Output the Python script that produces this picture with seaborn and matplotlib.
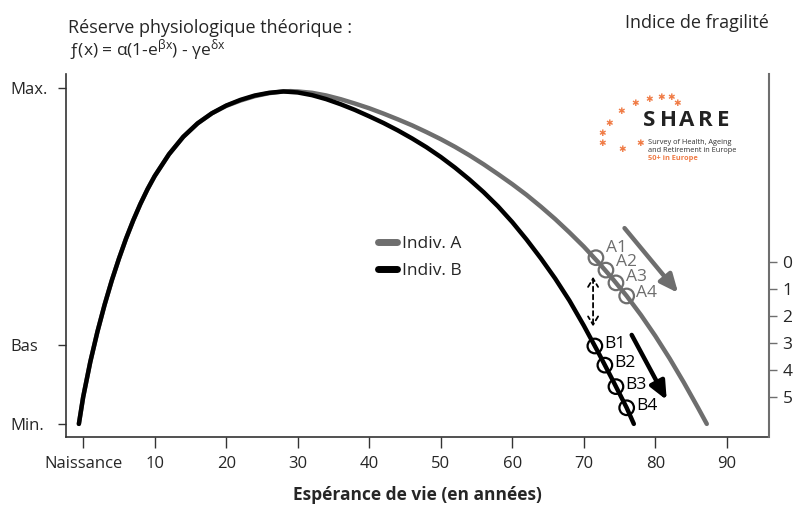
import numpy as np
import pandas as pd
import matplotlib
matplotlib.use("Agg")
import matplotlib.pyplot as plt
from matplotlib.lines import Line2D
from matplotlib import font_manager
import seaborn as sns

# ---------------- data ----------------
years_b = [-0.6, 0, 1, 2, 3, 4, 5, 6, 7, 8, 9, 10, 12, 14, 16, 18, 20, 22, 24, 26, 28,
           30, 32, 34, 36, 38, 40, 42, 44, 46, 48, 50, 52, 54, 56, 58, 60, 62, 64, 66,
           68, 70, 72, 74, 76, 77]
reserve_b = [0.0, 0.080, 0.185, 0.275, 0.355, 0.427, 0.492, 0.552, 0.606, 0.655, 0.699, 0.738,
             0.803, 0.855, 0.895, 0.925, 0.948, 0.965, 0.978, 0.986, 0.990,
             0.987, 0.979, 0.967, 0.952, 0.935, 0.916, 0.896, 0.874, 0.850, 0.824, 0.795,
             0.763, 0.728, 0.690, 0.648, 0.601, 0.549, 0.493, 0.433,
             0.367, 0.293, 0.214, 0.132, 0.048, 0.0]

years_a = [-0.6, 0, 1, 2, 3, 4, 5, 6, 7, 8, 9, 10, 12, 14, 16, 18, 20, 22, 24, 26, 28, 29,
           30, 32, 34, 36, 38, 40, 42, 44, 46, 48, 50, 52, 54, 56, 58, 60, 62, 64, 66,
           68, 70, 72, 74, 76, 78, 80, 82, 84, 86, 87.2]
reserve_a = [0.0, 0.080, 0.185, 0.275, 0.355, 0.427, 0.492, 0.552, 0.606, 0.655, 0.699, 0.738,
             0.803, 0.855, 0.895, 0.925, 0.947, 0.963, 0.976, 0.985, 0.990, 0.991,
             0.990, 0.986, 0.978, 0.967, 0.954, 0.940, 0.924, 0.907, 0.889, 0.869, 0.848,
             0.825, 0.800, 0.773, 0.744, 0.714, 0.682, 0.647, 0.610,
             0.570, 0.528, 0.482, 0.433, 0.381, 0.324, 0.262, 0.195, 0.123, 0.047, 0.0]

series_names = ["Indiv. A", "Indiv. B"]
points_a_years = [71.7, 73.1, 74.5, 76.0]
points_a_vals = [0.495, 0.458, 0.420, 0.381]
points_a_labels = ["A1", "A2", "A3", "A4"]
points_b_years = [71.55, 72.95, 74.5, 76.0]
points_b_vals = [0.232, 0.175, 0.111, 0.048]
points_b_labels = ["B1", "B2", "B3", "B4"]

x_ticks = [0, 10, 20, 30, 40, 50, 60, 70, 80, 90]
x_ticklabels = ["Naissance", "10", "20", "30", "40", "50", "60", "70", "80", "90"]
y_ticks = [0.0, 0.235, 1.0]
y_ticklabels = ["Min.", "Bas", "Max."]
frailty_ticks = [0, 1, 2, 3, 4, 5]

GREY = "#6e6e6e"
BLACK = "#000000"
ORANGE = "#f07b45"

# ---------------- style ----------------
sns.set_theme(style="white")
avail = {f.name for f in font_manager.fontManager.ttflist}
main_font = "Open Sans" if "Open Sans" in avail else "DejaVu Sans"
plt.rcParams["font.family"] = [main_font, "DejaVu Sans"]
plt.rcParams["mathtext.default"] = "regular"

fig = plt.figure(figsize=(7.97, 5.07), dpi=100)
ax = fig.add_axes([66 / 797, 1 - 437 / 507, (769 - 66) / 797, (437 - 74) / 507])

df = pd.concat([
    pd.DataFrame({"age": years_a, "reserve": reserve_a, "indiv": series_names[0]}),
    pd.DataFrame({"age": years_b, "reserve": reserve_b, "indiv": series_names[1]}),
])
sns.lineplot(data=df, x="age", y="reserve", hue="indiv",
             palette={series_names[0]: GREY, series_names[1]: BLACK},
             estimator=None, sort=True, lw=3.2, ax=ax, legend=False,
             solid_capstyle="round", solid_joinstyle="round")

sns.scatterplot(x=points_a_years, y=points_a_vals, marker="o", s=110,
                facecolor="none", edgecolor=GREY, linewidth=1.6, ax=ax, zorder=5)
sns.scatterplot(x=points_b_years, y=points_b_vals, marker="o", s=110,
                facecolor="none", edgecolor=BLACK, linewidth=1.6, ax=ax, zorder=5)

a_label_dy = [7.2, 5.8, 4.3, 2.2]
for (xv, yv, lab), dy in zip(zip(points_a_years, points_a_vals, points_a_labels), a_label_dy):
    ax.annotate(lab, (xv, yv), xytext=(7, dy), textcoords="offset points",
                color=GREY, fontsize=12.5, va="center", ha="left")
for xv, yv, lab in zip(points_b_years, points_b_vals, points_b_labels):
    ax.annotate(lab, (xv, yv), xytext=(7, 1.5), textcoords="offset points",
                color=BLACK, fontsize=12.5, va="center", ha="left")

# arrows
ax.annotate("", xy=(83.2, 0.390), xytext=(75.7, 0.583),
            arrowprops=dict(arrowstyle="-|>,head_length=0.9,head_width=0.4",
                            color=GREY, lw=3.2, shrinkA=0, shrinkB=0))
ax.annotate("", xy=(81.6, 0.071), xytext=(76.7, 0.265),
            arrowprops=dict(arrowstyle="-|>,head_length=0.9,head_width=0.4",
                            color=BLACK, lw=3.2, shrinkA=0, shrinkB=0))
ax.annotate("", xy=(71.3, 0.290), xytext=(71.3, 0.438),
            arrowprops=dict(arrowstyle="<->,head_length=0.5,head_width=0.3",
                            color=BLACK, lw=1.3, ls=(0, (2.5, 2)), shrinkA=0, shrinkB=0))

# axes formatting
ax.set_xlim(-2.4, 95.9)
ax.set_ylim(-0.039, 1.042)
ax.set_xticks(x_ticks)
ax.set_xticklabels(x_ticklabels, fontsize=12)
ax.set_yticks(y_ticks)
ax.set_yticklabels(y_ticklabels, fontsize=12, ha="left")
ax.tick_params(axis="x", direction="out", length=8, width=1, color="#333333", pad=6,
               bottom=True)
ax.tick_params(axis="y", direction="out", length=5.8, width=1, color="#333333", pad=34.5,
               left=True)
ax.set_xlabel("Espérance de vie (en années)", fontsize=12.5, fontweight="bold", labelpad=10)
ax.set_ylabel("")
for side in ["top", "right"]:
    ax.spines[side].set_visible(False)
for side in ["left", "bottom"]:
    ax.spines[side].set_color("#333333")
    ax.spines[side].set_linewidth(1.2)

# right frailty axis
ax2 = ax.twinx()
ax2.set_ylim(6.50, -6.98)
ax2.set_yticks(frailty_ticks)
ax2.set_yticklabels([str(t) for t in frailty_ticks], fontsize=12.5)
ax2.tick_params(axis="y", direction="out", length=5.8, width=1, color=GREY, pad=4, right=True)
for side in ["top", "left", "bottom"]:
    ax2.spines[side].set_visible(False)
ax2.spines["right"].set_color(GREY)
ax2.spines["right"].set_linewidth(1.5)
ax2.grid(False)
ax.grid(False)

# legend
handles = [Line2D([0], [0], color=GREY, lw=5), Line2D([0], [0], color=BLACK, lw=5)]
fig.legend(handles, series_names, loc="upper left", bbox_to_anchor=(378 / 797, 1 - 236 / 507),
           frameon=False, fontsize=12.5, handlelength=1.1, handletextpad=0.3,
           labelspacing=0.62, borderaxespad=0, borderpad=0)

# header texts
fig.text(68 / 797, 1 - 28 / 507, "Réserve physiologique théorique :", fontsize=13,
         va="center", ha="left")
fig.text(68 / 797, 1 - 50 / 507, "ƒ(x) = α(1-e$^{βx}$) - γe$^{δx}$", fontsize=12.5,
         va="center", ha="left")
fig.text(769 / 797, 1 - 23 / 507, "Indice de fragilité", fontsize=13, va="center", ha="right")

# SHARE logo
share_letters = ["S", "H", "A", "R", "E"]
share_px = [649, 668.5, 687, 705.5, 723.5]
for letter, lx in zip(share_letters, share_px):
    fig.text(lx / 797, 1 - 121 / 507, letter, fontsize=16, fontweight="bold",
             color="#222222", va="center", ha="center")
fig.text(648 / 797, 1 - 143 / 507, "Survey of Health, Ageing", fontsize=5.3,
         color="#333333", va="center", ha="left")
fig.text(648 / 797, 1 - 151 / 507, "and Retirement in Europe", fontsize=5.3,
         color="#333333", va="center", ha="left")
fig.text(648 / 797, 1 - 159 / 507, "50+ in Europe", fontsize=5.3, fontweight="bold",
         color=ORANGE, va="center", ha="left")
star_px = [(602, 144), (602, 133), (609, 123), (621, 112), (635, 104), (649, 99),
           (661, 97), (671, 98), (677, 104), (622, 150), (640, 144)]
for sx, sy in star_px:
    fig.text(sx / 797, 1 - sy / 507, "\u2731", fontsize=6.5, color=ORANGE,
             va="center", ha="center", family="DejaVu Sans")

fig.savefig("out.png", dpi=100)
